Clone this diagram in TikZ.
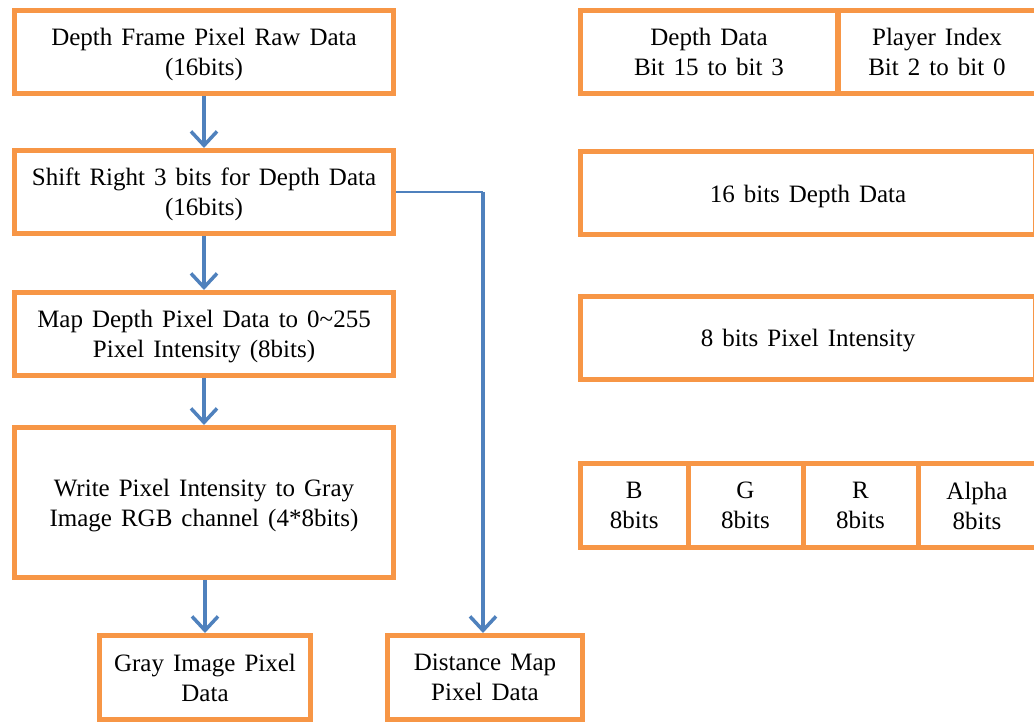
\documentclass[tikz,border=0pt]{standalone}
\usepackage{fontspec}
\setmainfont{Liberation Serif}
\usetikzlibrary{arrows.meta}
\definecolor{boxorange}{RGB}{247,150,70}
\definecolor{lineblue}{RGB}{79,129,189}
\newcommand{\boxfont}{\fontsize{25}{30}\selectfont\spaceskip=0.36em\relax}

\begin{document}
\begin{tikzpicture}[x=1pt,y=-1pt]
\tikzstyle{flowbox}=[draw=boxorange,line width=5pt,align=center,inner sep=0pt,text depth=0pt,font=\boxfont]
\tikzstyle{fieldbox}=[flowbox,minimum height=83pt]
\tikzstyle{flowarrow}=[draw=lineblue,line width=3.5pt,-{Straight Barb[length=14pt,width=26pt,line width=3.5pt]}]

\useasboundingbox (0,0) rectangle (1034,727);

\node (raw) [flowbox,minimum width=379pt,minimum height=83pt] at (204,52) {Depth Frame Pixel Raw Data\\(16bits)};
\node (shift) [flowbox,minimum width=379pt,minimum height=83pt] at (204,192) {Shift Right 3 bits for Depth Data\\(16bits)};
\node (map) [flowbox,minimum width=379pt,minimum height=83pt] at (204,334) {Map Depth Pixel Data to 0\textasciitilde255\\Pixel Intensity (8bits)};
\node (write) [flowbox,minimum width=379pt,minimum height=150pt] at (204,502.5) {Write Pixel Intensity to Gray\\Image RGB channel (4*8bits)};
\node (gray) [flowbox,minimum width=211pt,minimum height=84pt] at (205,677.5) {Gray Image Pixel\\Data};
\node (dist) [flowbox,minimum width=195pt,minimum height=84pt] at (485,677.5) {Distance Map\\Pixel Data};

\draw [flowarrow] (raw) -- (shift);
\draw [flowarrow] (shift) -- (map);
\draw [flowarrow] (map) -- (write);
\draw [flowarrow] (write.south -| gray.north) -- (gray);
\coordinate (bend) at (483,192);
\draw [draw=lineblue,line width=2pt] (shift.east) -- (bend);
\draw [flowarrow] (bend) -- (bend |- dist.north);

\node (depth) [fieldbox,minimum width=257.5pt] at (709,52) {Depth Data\\Bit 15 to bit 3};
\node (player) [fieldbox,minimum width=198pt] at (937,52) {Player Index\\Bit 2 to bit 0};
\node (depth16) [fieldbox,minimum width=455.5pt] at (808,193.5) {16 bits Depth Data};
\node (intens) [fieldbox,minimum width=455.5pt] at (808,338) {8 bits Pixel Intensity};
\node (chB) [fieldbox,minimum width=107.5pt,minimum height=84pt] at (634.25,505.5) {B\\8bits};
\node (chG) [fieldbox,minimum width=115pt,minimum height=84pt] at (745.5,505.5) {G\\8bits};
\node (chR) [fieldbox,minimum width=115pt,minimum height=84pt] at (860.5,505.5) {R\\8bits};
\node (chA) [fieldbox,minimum width=118pt,minimum height=84pt] at (977,505.5) {Alpha\\8bits};

\end{tikzpicture}
\end{document}
